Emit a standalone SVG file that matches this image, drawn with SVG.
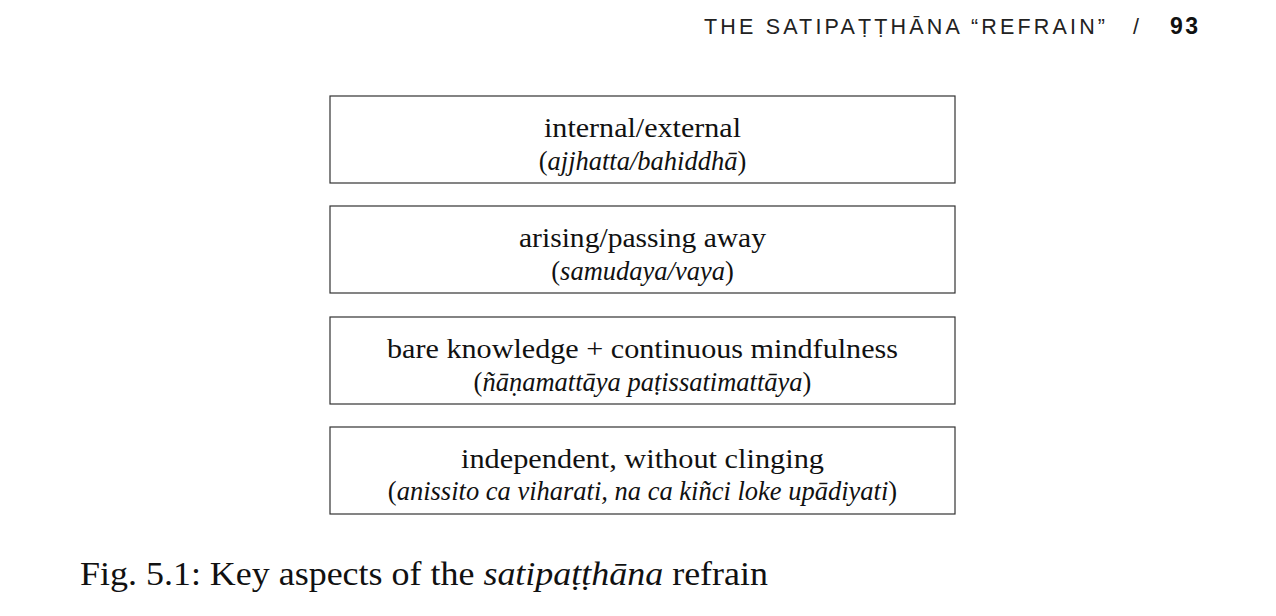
<svg xmlns="http://www.w3.org/2000/svg" width="1276" height="616" viewBox="0 0 1276 616">
<style>
.box{fill:#fff;stroke:#333;stroke-width:1.2}
.t{font-family:"Liberation Serif","DejaVu Serif",serif;font-size:28px;fill:#111;text-anchor:middle}
.s{font-family:"Liberation Serif","DejaVu Serif",serif;font-size:26.5px;fill:#111;text-anchor:middle}
.i{font-style:italic}
.hd{font-family:"Liberation Sans",Arial,sans-serif;font-size:21.5px;fill:#222}
.cap{font-family:"Liberation Serif","DejaVu Serif",serif;font-size:33px;fill:#111}
</style>
<rect width="1276" height="616" fill="#fff"/>
<g id="header">
<text class="hd" x="704" y="34" textLength="401" lengthAdjust="spacing">THE SATIPAṬṬHĀNA “REFRAIN”</text>
<text class="hd" x="1133" y="34">/</text>
<text x="1170" y="34" style="font-family:'Liberation Sans',Arial,sans-serif;font-size:23px;font-weight:bold;fill:#111;letter-spacing:2.5px">93</text>
</g>
<g id="node1">
<rect class="box" x="330" y="96" width="625" height="87"/>
<text class="t" x="642.5" y="137" textLength="197" lengthAdjust="spacingAndGlyphs">internal/external</text>
<text class="s" x="642.5" y="170">(<tspan class="i">ajjhatta/bahiddhā</tspan>)</text>
</g>
<g id="node2">
<rect class="box" x="330" y="206" width="625" height="87"/>
<text class="t" x="642.5" y="247" textLength="247" lengthAdjust="spacingAndGlyphs">arising/passing away</text>
<text class="s" x="642.5" y="280">(<tspan class="i">samudaya/vaya</tspan>)</text>
</g>
<g id="node3">
<rect class="box" x="330" y="317" width="625" height="87"/>
<text class="t" x="642.5" y="358" textLength="511" lengthAdjust="spacingAndGlyphs">bare knowledge + continuous mindfulness</text>
<text class="s" x="642.5" y="391">(<tspan class="i">ñāṇamattāya paṭissatimattāya</tspan>)</text>
</g>
<g id="node4">
<rect class="box" x="330" y="427" width="625" height="87"/>
<text class="t" x="642.5" y="468" textLength="363" lengthAdjust="spacingAndGlyphs">independent, without clinging</text>
<text class="s" x="642.5" y="500">(<tspan class="i">anissito ca viharati, na ca kiñci loke upādiyati</tspan>)</text>
</g>
<g id="connectors"></g>
<g id="caption">
<text class="cap" x="80" y="585" textLength="688" lengthAdjust="spacingAndGlyphs">Fig. 5.1: Key aspects of the <tspan font-style="italic">satipaṭṭhāna</tspan> refrain</text>
</g>
</svg>
